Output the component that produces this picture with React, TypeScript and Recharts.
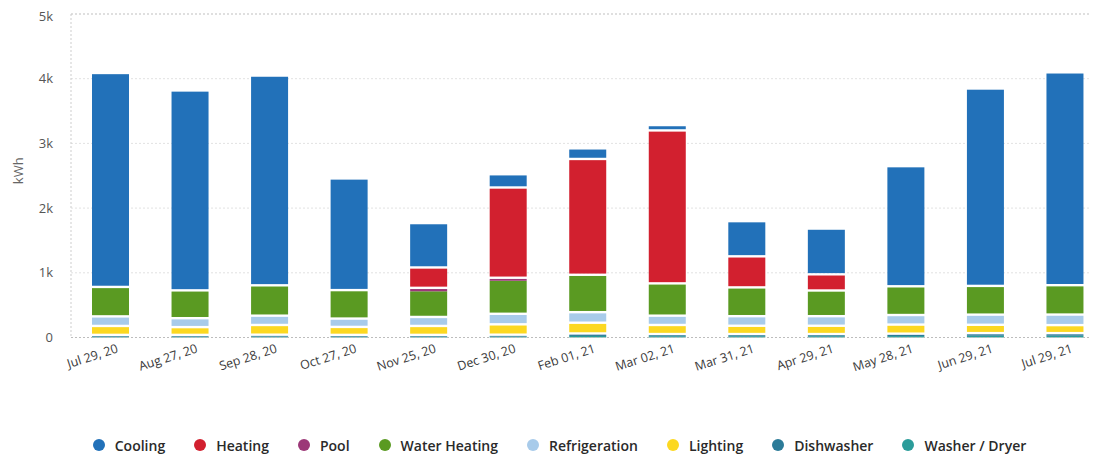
import React from 'react';
import { BarChart, Bar, XAxis, YAxis, CartesianGrid, ReferenceLine, Label } from 'recharts';

const categories = [
  'Jul 29, 20', 'Aug 27, 20', 'Sep 28, 20', 'Oct 27, 20', 'Nov 25, 20', 'Dec 30, 20', 'Feb 01, 21',
  'Mar 02, 21', 'Mar 31, 21', 'Apr 29, 21', 'May 28, 21', 'Jun 29, 21', 'Jul 29, 21',
];

const washerDryer = [12, 12, 14, 12, 12, 14, 24, 20, 20, 20, 22, 27, 27];
const dishwasher = [10, 10, 11, 10, 10, 11, 20, 15, 15, 15, 19, 22, 22];
const lighting = [138, 120, 150, 123, 138, 160, 166, 140, 128, 128, 140, 129, 124];
const refrigeration = [148, 138, 144, 129, 139, 163, 163, 144, 148, 148, 148, 157, 163];
const waterHeating = [455, 430, 469, 440, 415, 529, 578, 499, 445, 397, 444, 444, 454];
const pool = [0, 0, 0, 0, 35, 28, 0, 0, 0, 0, 0, 0, 0];
const heating = [0, 0, 0, 0, 315, 1395, 1790, 2364, 480, 250, 0, 0, 0];
const cooling = [3307, 3090, 3242, 1726, 686, 205, 164, 83, 544, 707, 1857, 3051, 3290];

const yTicks = [0, 1000, 2000, 3000, 4000, 5000];

// stacking order: bottom first
const series = [
  { key: 'washerDryer', name: 'Washer / Dryer', color: '#2b9c9a', values: washerDryer },
  { key: 'dishwasher', name: 'Dishwasher', color: '#2c7b98', values: dishwasher },
  { key: 'lighting', name: 'Lighting', color: '#fcd821', values: lighting },
  { key: 'refrigeration', name: 'Refrigeration', color: '#a8cbea', values: refrigeration },
  { key: 'waterHeating', name: 'Water Heating', color: '#5a9a22', values: waterHeating },
  { key: 'pool', name: 'Pool', color: '#9c3878', values: pool },
  { key: 'heating', name: 'Heating', color: '#d2202f', values: heating },
  { key: 'cooling', name: 'Cooling', color: '#2271b9', values: cooling },
];

const legendItems = [...series].reverse();

const data = categories.map((c, i) => {
  const row: Record<string, string | number> = { date: c };
  series.forEach((s) => {
    row[s.key] = s.values[i];
  });
  return row;
});

const FONT = '"Open Sans", "Noto Sans", sans-serif';
const GAP = 2.4;

const SegmentShape = (props: any) => {
  const { x, y, width, height, fill } = props;
  if (!height || height <= 0.01) return null;
  const h = height > 3 ? height - GAP : height;
  return <rect x={x} y={y} width={width} height={h} fill={fill} />;
};

const XTick = (props: any) => {
  const { x, y, payload } = props;
  return (
    <g transform={`translate(${x},${y})`}>
      <text
        x={3.1}
        y={16.3}
        textAnchor="end"
        transform="rotate(-18)"
        fontSize={12.5}
        fill="#3a3a3a"
        fontFamily={FONT}
      >
        {payload.value}
      </text>
    </g>
  );
};

const KwhLabel = (props: any) => {
  const vb = props.viewBox || { x: 0, y: 0, width: 0, height: 0 };
  const cx = vb.x + 10;
  const cy = vb.y + vb.height / 2 - 5;
  return (
    <text
      x={cx}
      y={cy}
      transform={`rotate(-90, ${cx}, ${cy})`}
      textAnchor="middle"
      dominantBaseline="central"
      fontSize={13}
      fill="#666"
      fontFamily={FONT}
    >
      kWh
    </text>
  );
};

const fmtY = (v: number) => (v === 0 ? '0' : `${v / 1000}k`);

export default function App() {
  return (
    <div style={{ position: 'relative', width: 1089, height: 450, overflow: 'hidden', fontFamily: FONT }}>
      <BarChart
        width={1100}
        height={450}
        data={data}
        margin={{ top: 6, right: 3, left: 0, bottom: 90.5 }}
        barSize={37}
      >
        <CartesianGrid vertical={false} stroke="#e2e2e2" strokeDasharray="2 2" />
        <ReferenceLine y={5000} stroke="#cdcdcd" strokeDasharray="2 2" ifOverflow="extendDomain" />
        <XAxis
          dataKey="date"
          tick={<XTick />}
          tickLine={false}
          tickSize={0}
          tickMargin={0}
          height={30}
          interval={0}
          axisLine={{ stroke: '#bdbdbd', strokeDasharray: '2 2' }}
        />
        <YAxis
          width={63}
          domain={[0, 5000]}
          ticks={yTicks}
          tickFormatter={fmtY}
          tickLine={false}
          tickSize={0}
          tickMargin={18}
          axisLine={{ stroke: '#cdcdcd', strokeDasharray: '2 2' }}
          tick={{ fontSize: 13, fill: '#555', fontFamily: FONT }}
          label={<Label content={KwhLabel} />}
        />
        {series.map((s) => (
          <Bar
            key={s.key}
            dataKey={s.key}
            name={s.name}
            stackId="a"
            fill={s.color}
            isAnimationActive={false}
            shape={SegmentShape}
          />
        ))}
      </BarChart>
      <div
        style={{
          position: 'absolute',
          left: 0,
          top: 429,
          width: 1103,
          height: 16,
          display: 'flex',
          justifyContent: 'center',
          alignItems: 'center',
        }}
      >
        {legendItems.map((s, i) => (
          <div
            key={s.key}
            style={{ display: 'flex', alignItems: 'center', marginRight: i === legendItems.length - 1 ? 0 : 29 }}
          >
            <span
              style={{
                display: 'inline-block',
                width: 12,
                height: 12,
                borderRadius: 6,
                background: s.color,
                marginRight: 10,
              }}
            />
            <span style={{ fontSize: 14, fontWeight: 600, color: '#2a2a2a', fontFamily: FONT, whiteSpace: 'nowrap' }}>
              {s.name}
            </span>
          </div>
        ))}
      </div>
    </div>
  );
}
